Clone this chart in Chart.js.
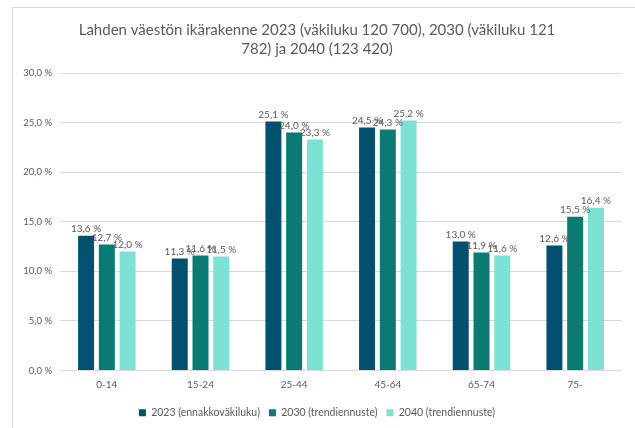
<!DOCTYPE html>
<html lang="fi">
<head>
    <meta charset="UTF-8">
    <title>Lahden väestön ikärakenne</title>
    <style>
        html, body {
            margin: 0;
            padding: 0;
            background: #ffffff;
        }
        .frame {
            position: absolute;
            left: 12px;
            top: 7px;
            width: 640px;
            height: 440px;
            border-top: 1px solid #d9d9d9;
            border-left: 1px solid #d9d9d9;
        }
        .wrap {
            position: absolute;
            left: 0;
            top: 0;
            width: 635px;
            height: 428px;
        }
    </style>
</head>
<body>
    <div class="frame"></div>
    <div class="wrap">
        <canvas id="mychart"></canvas>
    </div>

    <script src="https://cdnjs.cloudflare.com/ajax/libs/Chart.js/4.4.1/chart.umd.min.js"></script>
    <script>
        const ageGroups = ["0-14", "15-24", "25-44", "45-64", "65-74", "75-"];
        const seriesNames = ["2023 (ennakkoväkiluku)", "2030 (trendiennuste)", "2040 (trendiennuste)"];
        const share2023 = [13.6, 11.3, 25.1, 24.5, 13.0, 12.6];
        const share2030 = [12.7, 11.6, 24.0, 24.3, 11.9, 15.5];
        const share2040 = [12.0, 11.5, 23.3, 25.2, 11.6, 16.4];
        const yTicks = [0, 5, 10, 15, 20, 25, 30];

        const colors = ["#01506e", "#0a7a72", "#7de1d4"];
        const txt = "#595959";
        const fontName = "Lato, 'Open Sans', sans-serif";

        function pct(v) {
            return v.toFixed(1).replace(".", ",") + " %";
        }

        // arvot pylväiden päälle
        const barLabels = {
            id: "barLabels",
            afterDatasetsDraw(chart) {
                const ctx = chart.ctx;
                ctx.save();
                ctx.font = "10px " + fontName;
                ctx.fillStyle = txt;
                ctx.textAlign = "center";
                ctx.textBaseline = "bottom";
                chart.data.datasets.forEach((ds, i) => {
                    const meta = chart.getDatasetMeta(i);
                    meta.data.forEach((bar, j) => {
                        ctx.fillText(pct(ds.data[j]), bar.x, bar.y - 2);
                    });
                });
                ctx.restore();
            },
        };

        new Chart(document.getElementById("mychart"), {
            type: "bar",
            data: {
                labels: ageGroups,
                datasets: [
                    { label: seriesNames[0], data: share2023, backgroundColor: colors[0] },
                    { label: seriesNames[1], data: share2030, backgroundColor: colors[1] },
                    { label: seriesNames[2], data: share2040, backgroundColor: colors[2] },
                ],
            },
            options: {
                responsive: true,
                maintainAspectRatio: false,
                animation: false,
                categoryPercentage: 0.665,
                barPercentage: 0.77,
                layout: {
                    padding: { top: 20, right: 13, bottom: 0, left: 12 },
                },
                plugins: {
                    title: {
                        display: true,
                        text: ["Lahden väestön ikärakenne 2023 (väkiluku 120 700), 2030 (väkiluku 121", "782) ja 2040 (123 420)"],
                        color: txt,
                        font: { family: fontName, size: 15, weight: "normal", lineHeight: 1.3 },
                        padding: { top: 0, bottom: 14 },
                    },
                    legend: {
                        position: "bottom",
                        labels: {
                            color: txt,
                            boxWidth: 7,
                            boxHeight: 7,
                            padding: 9,
                            font: { family: fontName, size: 10.5 },
                        },
                    },
                    tooltip: { enabled: false },
                },
                scales: {
                    x: {
                        grid: { display: false, drawTicks: false },
                        border: { display: false },
                        ticks: { color: txt, padding: 8, font: { family: fontName, size: 10 } },
                    },
                    y: {
                        min: 0,
                        max: 30,
                        afterFit(scale) {
                            scale.width = 48;
                        },
                        afterBuildTicks(scale) {
                            scale.ticks = yTicks.map(v => ({ value: v }));
                        },
                        grid: { color: "#d9d9d9", drawTicks: false },
                        border: { display: false },
                        ticks: {
                            color: txt,
                            padding: 8,
                            font: { family: fontName, size: 9.5 },
                            callback: v => pct(v),
                        },
                    },
                },
            },
            plugins: [barLabels],
        });
    </script>
</body>
</html>
